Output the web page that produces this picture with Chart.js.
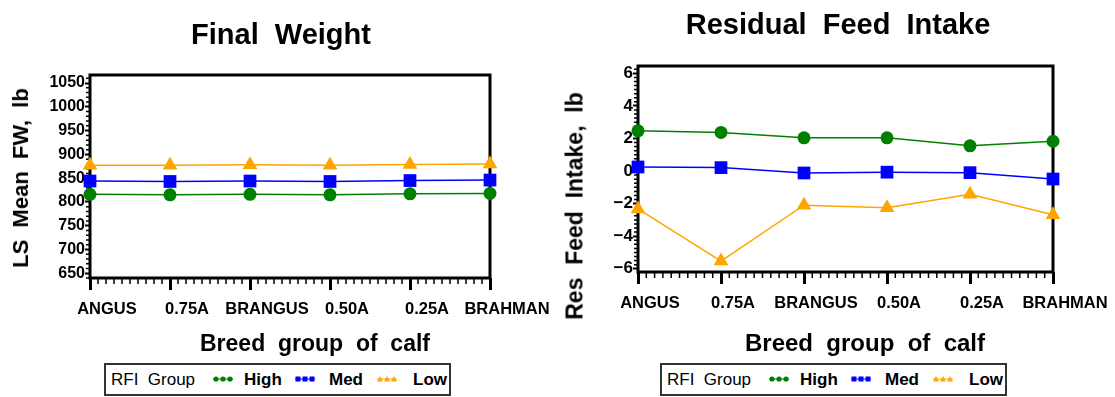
<!DOCTYPE html>
<html>
<head>
<meta charset="utf-8">
<script src="https://cdn.jsdelivr.net/npm/chart.js@4/dist/chart.umd.min.js"></script>
<style>
  body { margin: 0; background: #fff; font-family: "Liberation Sans", Arial, sans-serif; }
  #wrap { position: relative; width: 1115px; height: 397px; overflow: hidden; }
  .box { position: absolute; }
  .txt { position: absolute; white-space: pre; color: #000; transform: translate(-50%, -50%); line-height: 1; }
  .b { font-weight: bold; }
  .rot { transform: translate(-50%, -50%) rotate(-90deg); }
  .legend { position: absolute; border: 2px solid #333; width: 343px; height: 29px; box-sizing: content-box; }
  .legend span, .legend svg { position: absolute; }
  .legend span { top: 6px; font-size: 17px; line-height: 1; white-space: pre; }
</style>
</head>
<body>
<div id="wrap">
  <div class="box" style="left:0;top:0;width:557px;height:330px"><canvas id="fw"></canvas></div>
  <div class="box" style="left:557px;top:0;width:558px;height:330px"><canvas id="rfi"></canvas></div>

  <div class="txt b" style="left:281px;top:34px;font-size:29px">Final  Weight</div>
  <div class="txt b" style="left:838px;top:24px;font-size:29px">Residual  Feed  Intake</div>
  <div class="txt b rot" style="left:21px;top:178px;font-size:22px">LS  Mean  FW,  lb</div>
  <div class="txt b rot" style="left:575px;top:206px;font-size:23px">Res  Feed  Intake,  lb</div>
  <div class="txt b" style="left:315px;top:343px;font-size:23px">Breed  group  of  calf</div>
  <div class="txt b" style="left:865px;top:343px;font-size:24px">Breed  group  of  calf</div>

  <div class="legend" id="leg1" style="left:104px;top:363px"></div>
  <div class="legend" id="leg2" style="left:660px;top:363px"></div>
</div>
<script>
const breeds = ['ANGUS', '0.75A', 'BRANGUS', '0.50A', '0.25A', 'BRAHMAN'];
const groups = ['High', 'Med', 'Low'];

// Final weight, lb
const fwHigh = [816, 815, 816, 815, 817, 818];
const fwMed = [844, 843, 844, 843, 845, 846];
const fwLow = [877, 877, 878, 877, 879, 880];
const fwTicks = [650, 700, 750, 800, 850, 900, 950, 1000, 1050];

// Residual feed intake, lb
const rfiHigh = [2.47, 2.37, 2.04, 2.04, 1.55, 1.83];
const rfiMed = [0.25, 0.21, -0.12, -0.07, -0.10, -0.49];
const rfiLow = [-2.33, -5.53, -2.10, -2.25, -1.43, -2.68];
const rfiTicks = [-6, -4, -2, 0, 2, 4, 6];

const FONT = '"Liberation Sans", Arial, sans-serif';
const colors = { High: '#008000', Med: '#0000ff', Low: '#ffa500' };
const shapes = { High: 'circle', Med: 'rect', Low: 'triangle' };
const radii = { High: 6.5, Med: 9, Low: 8.5 };

// plot frame + minor ticks
const frame = {
  id: 'frame',
  beforeDatasetsDraw(chart, args, opts) {
    const { ctx, chartArea: a, scales: { x, y } } = chart;
    ctx.save();
    ctx.strokeStyle = '#000';
    ctx.lineWidth = 1.5;
    ctx.beginPath();
    const n = chart.data.labels.length;
    for (let i = 0; i < n - 1; i++) {
      for (let k = 1; k < opts.xDiv; k++) {
        const px = x.getPixelForValue(i + k / opts.xDiv);
        ctx.moveTo(px, a.bottom + 1);
        ctx.lineTo(px, a.bottom + 6);
      }
    }
    const first = Math.ceil(y.min / opts.yStep);
    const last = Math.floor(y.max / opts.yStep);
    for (let j = first; j <= last; j++) {
      const v = j * opts.yStep;
      if (Math.abs(v / opts.yMajor - Math.round(v / opts.yMajor)) < 1e-6) continue;
      const py = y.getPixelForValue(v);
      ctx.moveTo(a.left - 4, py);
      ctx.lineTo(a.left, py);
    }
    ctx.stroke();
    ctx.lineWidth = 3;
    ctx.strokeRect(a.left, a.top, a.width, a.height);
    ctx.restore();
  }
};

function makeDatasets(series) {
  return groups.map((g, i) => ({
    label: g,
    data: series[i],
    borderColor: colors[g],
    backgroundColor: colors[g],
    borderWidth: 1.5,
    pointStyle: shapes[g],
    pointRadius: radii[g],
    pointBorderWidth: 0,
    tension: 0,
    clip: false,
  }));
}

function makeChart(id, series, ticks, yMin, yMax, yMajor, yStep, sizes) {
  return new Chart(document.getElementById(id), {
    type: 'line',
    data: { labels: breeds, datasets: makeDatasets(series) },
    plugins: [frame],
    options: {
      responsive: true,
      maintainAspectRatio: false,
      animation: false,
      layout: { padding: { top: sizes.top, right: sizes.right, left: 0, bottom: 0 } },
      plugins: {
        legend: { display: false },
        tooltip: { enabled: false },
        frame: { xDiv: 10, yStep, yMajor },
      },
      scales: {
        x: {
          type: 'category',
          offset: false,
          border: { display: false },
          grid: { drawOnChartArea: false, drawTicks: true, tickLength: 12, tickWidth: 3, tickColor: '#000' },
          ticks: {
            autoSkip: false, maxRotation: 0, padding: 10, labelOffset: sizes.labelOffset,
            color: '#000', font: { family: FONT, size: 16.5, weight: 'bold' },
          },
          afterFit(s) { s.height = sizes.xHeight; },
        },
        y: {
          min: yMin,
          max: yMax,
          border: { display: false },
          grid: { drawOnChartArea: false, drawTicks: true, tickLength: 5, tickWidth: 2, tickColor: '#000' },
          afterBuildTicks(s) { s.ticks = ticks.map(v => ({ value: v })); },
          ticks: {
            padding: 0,
            color: '#000',
            font: { family: FONT, size: sizes.ySize, weight: 'bold' },
            callback: v => (v < 0 ? '\u2212' + Math.abs(v) : String(v)),
          },
          afterFit(s) { s.width = sizes.yWidth; },
        },
      },
    },
  });
}

makeChart('fw', [fwHigh, fwMed, fwLow], fwTicks, 640, 1067, 50, 10,
  { top: 75, right: 67, yWidth: 90, xHeight: 52, labelOffset: 17, ySize: 16 });
makeChart('rfi', [rfiHigh, rfiMed, rfiLow], rfiTicks, -6.2, 6.45, 2, 0.25,
  { top: 66, right: 62, yWidth: 81, xHeight: 58, labelOffset: 12, ySize: 17 });

// legends
function marker(g) {
  const c = colors[g];
  let s = `<line x1="0" y1="4" x2="20" y2="4" stroke="${c}" stroke-width="1"/>`;
  [3, 10, 17].forEach(cx => {
    if (g === 'High') s += `<circle cx="${cx}" cy="4" r="2.6" fill="${c}"/>`;
    else if (g === 'Med') s += `<rect x="${cx - 2.5}" y="1.5" width="5" height="5" fill="${c}"/>`;
    else s += `<polygon points="${cx - 3},6.5 ${cx + 3},6.5 ${cx},1" fill="${c}"/>`;
  });
  return `<svg width="20" height="8" style="top:10px">${s}</svg>`;
}
function buildLegend(el) {
  const pos = { High: [107, 138], Med: [189, 223], Low: [271, 307] };
  let html = '<span style="left:5px">RFI  Group</span>';
  groups.forEach(g => {
    html += marker(g).replace('style="', `style="left:${pos[g][0]}px;`);
    html += `<span class="b" style="left:${pos[g][1]}px">${g}</span>`;
  });
  el.innerHTML = html;
}
buildLegend(document.getElementById('leg1'));
buildLegend(document.getElementById('leg2'));
</script>
</body>
</html>
